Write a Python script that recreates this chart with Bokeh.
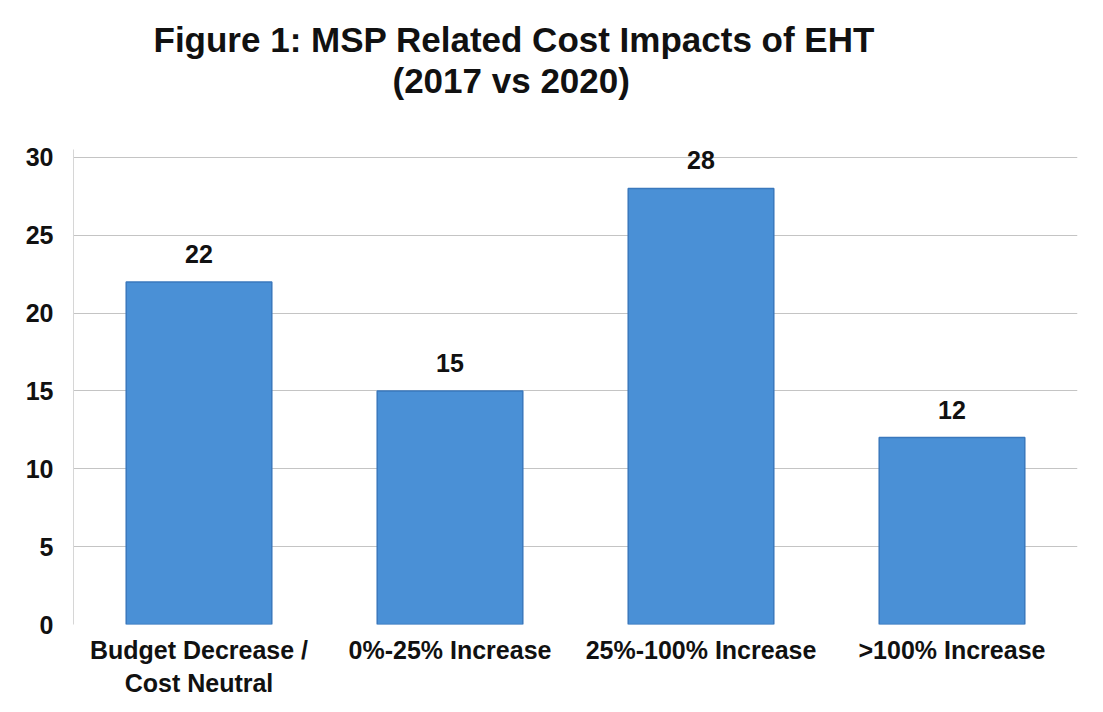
from bokeh.plotting import figure
from bokeh.models import ColumnDataSource, LabelSet, Title, FactorRange, Range1d, FixedTicker
from bokeh.core.properties import value
from bokeh.embed import file_html
from bokeh.resources import INLINE

categories = ["Budget Decrease /\nCost Neutral", "0%-25% Increase", "25%-100% Increase", ">100% Increase"]
values = [22, 15, 28, 12]
value_labels = [str(v) for v in values]
y_ticks = [0, 5, 10, 15, 20, 25, 30]
title_line1 = "Figure 1: MSP Related Cost Impacts of EHT"
title_line2 = "(2017 vs 2020)"

src = ColumnDataSource(dict(cat=categories, val=values, lab=value_labels))

FONT = "Liberation Sans"
INK = "#111111"

p = figure(width=1103, height=712, x_range=FactorRange(*categories), y_range=Range1d(0, 30.5),
           output_backend="svg", toolbar_location=None, tools="")
p.min_border_left = 73
p.min_border_right = 26
p.min_border_bottom = 88
p.min_border_top = 149
p.outline_line_color = None
p.background_fill_color = "white"
p.border_fill_color = "white"

p.vbar(x="cat", top="val", width=0.58, source=src, fill_color="#4a90d6", line_color="#3a78bd", line_width=1.5)

labels = LabelSet(x="cat", y="val", text="lab", source=src, text_align="center", text_baseline="alphabetic",
                  y_offset=19, text_font=value(FONT), text_font_style="bold", text_font_size="25px", text_color=INK)
p.add_layout(labels)

# spacer between the frame and the two title lines
p.add_layout(Title(text=" ", text_font_size="1px", standoff=47), "above")
p.add_layout(Title(text=title_line2, align="left", offset=319, standoff=0, text_font=FONT,
                   text_font_style="bold", text_font_size="35px", text_color=INK), "above")
p.add_layout(Title(text=title_line1, align="left", offset=80, standoff=0, text_font=FONT,
                   text_font_style="bold", text_font_size="35px", text_color=INK), "above")

p.xgrid.grid_line_color = None
p.ygrid.grid_line_color = "#c4c4c4"
p.ygrid.grid_line_width = 1.2
p.yaxis.ticker = FixedTicker(ticks=y_ticks)
p.yaxis.major_tick_line_color = None
p.yaxis.minor_tick_line_color = None
p.yaxis.major_tick_out = 0
p.yaxis.major_tick_in = 0
p.yaxis.axis_line_color = "#d6d6d6"
p.yaxis.major_label_standoff = 20
p.yaxis.major_label_text_font = FONT
p.yaxis.major_label_text_font_style = "bold"
p.yaxis.major_label_text_font_size = "25px"
p.yaxis.major_label_text_color = INK

p.xaxis.major_tick_line_color = None
p.xaxis.major_tick_out = 0
p.xaxis.major_tick_in = 0
p.xaxis.axis_line_color = None
p.xaxis.major_label_standoff = 11
p.xaxis.major_label_text_font = FONT
p.xaxis.major_label_text_font_style = "bold"
p.xaxis.major_label_text_font_size = "25px"
p.xaxis.major_label_text_color = INK

open("out.html", "w").write(file_html(p, INLINE))
